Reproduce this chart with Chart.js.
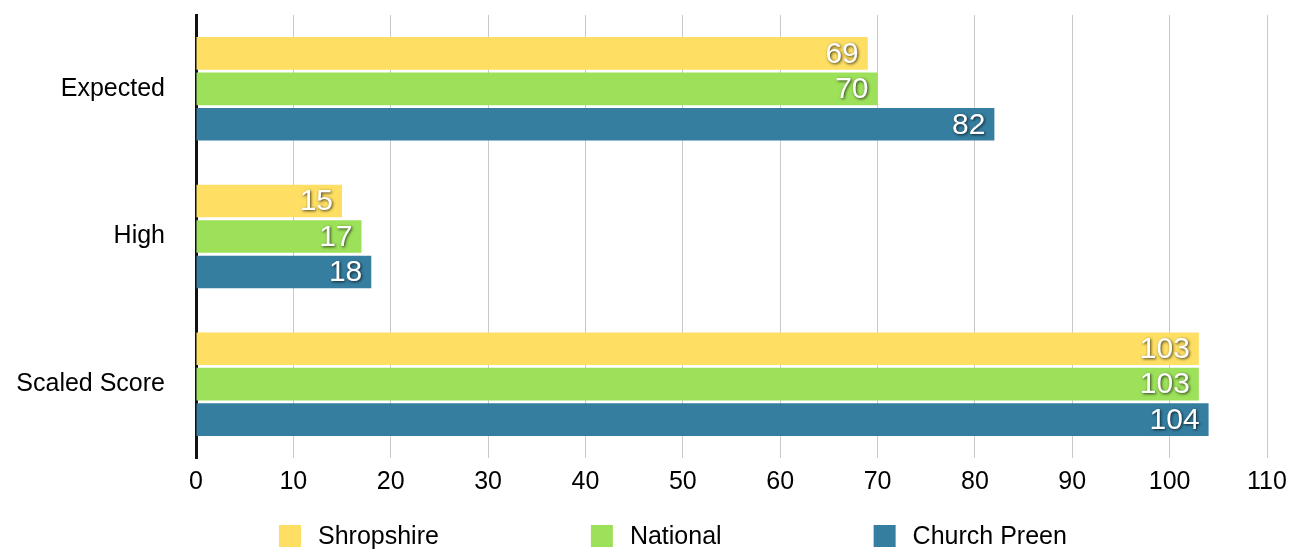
<!DOCTYPE html>
<html>
<head>
<meta charset="utf-8">
<script src="https://cdn.jsdelivr.net/npm/chart.js@4/dist/chart.umd.min.js"></script>
<style>
  html, body { margin: 0; padding: 0; background: #fff; }
  #wrap { width: 1301px; height: 553px; }
</style>
</head>
<body>
<div id="wrap"><canvas id="scoreChart" width="1301" height="553"></canvas></div>
<script>
// categories and series
const categories = ['Expected', 'High', 'Scaled Score'];
const shropshire = [69, 15, 103];
const national = [70, 17, 103];
const churchPreen = [82, 18, 104];
const xTicks = [0, 10, 20, 30, 40, 50, 60, 70, 80, 90, 100, 110];

const FONT = '"Liberation Sans", Arial, Helvetica, sans-serif';

// white value labels with a dark shadow, at the end of each bar
const valueLabels = {
  id: 'valueLabels',
  afterDatasetsDraw(chart) {
    const ctx = chart.ctx;
    ctx.save();
    ctx.font = '30px ' + FONT;
    ctx.textAlign = 'right';
    ctx.textBaseline = 'middle';
    ctx.fillStyle = '#fff';
    ctx.shadowColor = 'rgba(0,0,0,0.75)';
    ctx.shadowBlur = 3;
    ctx.shadowOffsetX = 1;
    ctx.shadowOffsetY = 1;
    chart.data.datasets.forEach((ds, i) => {
      chart.getDatasetMeta(i).data.forEach((bar, j) => {
        ctx.fillText(ds.data[j], bar.x - 9, bar.y + 1);
      });
    });
    ctx.restore();
  }
};

// legend drawn under the axis, square swatches with wide gaps
const bottomLegend = {
  id: 'bottomLegend',
  afterDraw(chart) {
    const ctx = chart.ctx;
    ctx.save();
    ctx.font = '25px ' + FONT;
    ctx.textBaseline = 'middle';
    ctx.textAlign = 'left';
    let x = 279;
    const y = 536;
    chart.data.datasets.forEach(ds => {
      ctx.fillStyle = ds.backgroundColor;
      ctx.fillRect(x, y - 11, 22, 22);
      ctx.fillStyle = '#000';
      ctx.fillText(ds.label, x + 39, y + 1);
      x += 39 + ctx.measureText(ds.label).width + 152;
    });
    ctx.restore();
  }
};

const scoreChart = new Chart(document.getElementById('scoreChart'), {
  type: 'bar',
  data: {
    labels: categories,
    datasets: [
      { label: 'Shropshire', data: shropshire, backgroundColor: '#FEDF63' },
      { label: 'National', data: national, backgroundColor: '#9DE15A' },
      { label: 'Church Preen', data: churchPreen, backgroundColor: '#357EA0' }
    ]
  },
  options: {
    indexAxis: 'y',
    responsive: false,
    animation: false,
    devicePixelRatio: 1,
    categoryPercentage: 0.72,
    barPercentage: 0.92,
    layout: { padding: { top: 10, right: 34, left: 0, bottom: 0 } },
    scales: {
      x: {
        min: 0,
        max: 110,
        afterBuildTicks(axis) {
          axis.ticks = xTicks.map(v => ({ value: v }));
        },
        afterFit(axis) { axis.height = 95; },
        grid: { color: '#c9c9c9', lineWidth: 1, drawTicks: false },
        border: { display: false },
        ticks: {
          color: '#000',
          padding: 9,
          maxRotation: 0,
          font: { family: FONT, size: 25 }
        }
      },
      y: {
        afterFit(axis) { axis.width = 196; },
        // invisible tick length gives the gap between labels and axis
        grid: { display: false, drawTicks: true, tickLength: 31 },
        border: { display: true, color: '#111', width: 3 },
        ticks: {
          color: '#000',
          padding: 0,
          font: { family: FONT, size: 25 }
        }
      }
    },
    plugins: {
      legend: { display: false },
      tooltip: { enabled: false }
    }
  },
  plugins: [valueLabels, bottomLegend]
});
</script>
</body>
</html>
